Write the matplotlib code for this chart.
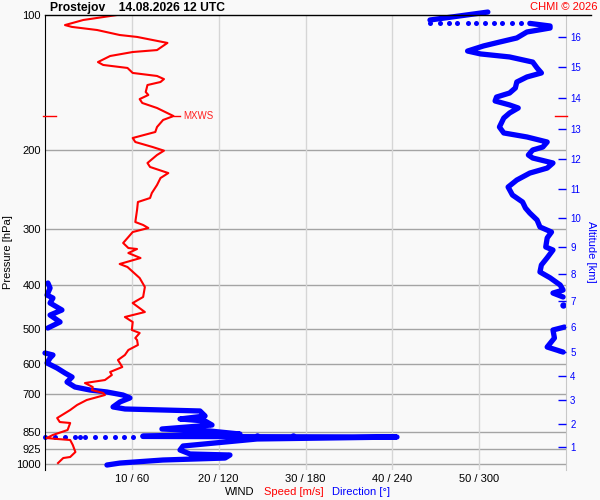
import numpy as np
import matplotlib
matplotlib.use("Agg")
import matplotlib.pyplot as plt
from matplotlib.lines import Line2D

plt.rcParams['font.family'] = ['Liberation Sans', 'DejaVu Sans']

BG = '#f9f9f9'

# wind speed profile: (pressure hPa, speed m/s)
speed = [
    (100.0, 8.3), (102.6, 4.4), (105.3, 2.3), (106.3, 3.1), (108.0, 6.0),
    (110.8, 8.6), (111.9, 10.6), (115.4, 14.1), (119.7, 12.9), (120.9, 10.1),
    (123.4, 7.5), (127.3, 6.1), (129.2, 6.7), (131.2, 9.5), (134.6, 10.1),
    (136.7, 12.9), (138.9, 13.7), (141.0, 13.3), (143.2, 11.8), (148.4, 11.6),
    (150.7, 11.9), (153.9, 10.9), (157.0, 11.2), (161.1, 12.9), (167.9, 14.8),
    (171.3, 13.6), (177.6, 12.9), (182.2, 12.7), (187.9, 10.1), (191.8, 10.4),
    (196.8, 12.4), (200.5, 13.7), (205.0, 12.9), (213.6, 11.8), (218.0, 12.1),
    (224.9, 14.2), (230.7, 13.3), (239.1, 12.9), (249.2, 12.3), (255.6, 12.1),
    (260.9, 10.7), (271.9, 10.6), (289.1, 10.4), (293.5, 11.3), (298.1, 11.9),
    (304.3, 10.1), (312.2, 9.6), (321.9, 9.0), (330.3, 9.6), (332.0, 10.6),
    (338.9, 9.6), (347.7, 11.0), (358.5, 8.6), (364.1, 9.5), (385.2, 10.9),
    (403.4, 11.5), (424.6, 11.3), (437.9, 10.1), (458.6, 11.5), (470.5, 9.2),
    (482.7, 10.1), (502.9, 10.0), (510.7, 10.9), (524.0, 10.4), (529.4, 10.6),
    (543.1, 10.7), (557.2, 9.6), (571.7, 9.2), (586.6, 8.4), (608.0, 8.9),
    (623.7, 7.5), (633.4, 7.7), (650.0, 6.9), (660.1, 4.6), (673.7, 5.5),
    (684.2, 5.4), (694.7, 6.7), (701.9, 6.9), (720.1, 4.8), (738.6, 3.7),
    (758.0, 2.9), (789.8, 1.4), (806.2, 1.7), (810.2, 2.9), (839.9, 2.6),
    (861.6, 0.9), (875.1, 0.2), (879.4, 1.4), (884.0, 2.9), (906.9, 3.2),
    (940.2, 3.5), (964.5, 2.9), (969.6, 2.1), (994.9, 1.5),
]

# wind direction profile, drawn in pieces (pressure hPa, direction deg)
dir_top = [(98.5, 306), (102.6, 266)]
dir_top_dots_p = 104.2
dir_top_dots = [266, 273, 279, 285, 292, 298, 304, 310, 316, 323, 329, 335]
dir_upper = [
    (104.4, 335), (105.8, 349), (106.9, 349), (109.1, 333), (112.5, 326),
    (114.9, 314), (117.2, 303), (120.3, 292), (122.1, 301), (124.0, 321),
    (127.3, 337), (131.2, 340), (134.6, 343), (137.4, 333), (141.0, 326),
    (145.4, 325), (149.2, 321), (152.3, 312), (155.4, 311), (158.6, 321),
    (161.1, 327), (165.3, 321), (169.6, 317), (177.6, 314), (183.1, 317),
    (186.9, 333), (191.8, 347), (196.8, 344), (199.8, 337), (205.0, 334),
    (208.2, 337), (213.6, 351), (219.2, 347), (224.9, 335), (233.1, 326),
    (241.6, 320), (251.7, 323), (260.9, 330), (269.1, 332), (276.1, 335),
    (286.1, 340), (296.5, 342), (304.3, 350), (313.7, 347), (328.6, 346),
    (333.7, 351), (347.2, 347), (360.3, 343), (373.5, 342), (384.8, 349),
    (399.3, 356), (409.8, 358), (416.1, 351), (424.6, 358),
]
dir_single = [(442.4, 358)]
dir_right_mid = [(495.3, 359), (502.9, 351), (524.0, 352), (548.8, 347), (563.2, 358)]
dir_left_mid = [
    (395.2, 2), (405.5, 3.5), (420.4, 1.4), (426.9, 5.5), (437.9, 3.5),
    (453.9, 11.7), (465.8, 3.5), (482.7, 10.4), (497.8, 2),
]
dir_lower = [
    (565.9, 0), (571.7, 5.5), (580.6, 3.5), (595.7, 1.4), (611.2, 8.3),
    (627.0, 13.8), (640.1, 18.7), (656.7, 15.2), (673.7, 20.7), (684.2, 31.1),
    (691.1, 42.8), (701.9, 53.9), (712.5, 58.7), (727.3, 51.8), (746.2, 47.0),
    (754.0, 55.3), (761.8, 107.1), (781.5, 110.6), (793.7, 93.3), (801.9, 110.6),
    (818.6, 115.4), (835.5, 80.8), (844.2, 114.0), (857.3, 134.7), (866.0, 67.7),
]
dir_850_dots_p = 870.6
dir_850_dots = [0, 6.9, 13.8, 20.7, 24.2, 27.6, 34.6, 41.5, 48.4, 54.6, 60.8]
dir_spike = [
    (868.0, 67.7), (870.6, 243.2), (879.4, 146.5), (911.6, 95.4), (930.6, 93.3),
    (949.7, 100.2), (954.8, 127.8), (969.6, 124.4), (979.5, 81.5), (994.9, 51.8),
    (1005.0, 42.8),
]
dir_spike_dots = [(866.0, 146.5), (866.0, 171.4)]

# max wind
mx_p, mx_v = 167.9, 14.8

press_ticks = [100, 200, 300, 400, 500, 600, 700, 850, 925, 1000]
speed_ticks = [10, 20, 30, 40, 50]
dir_ticks = [60, 120, 180, 240, 300]
alt_km = [1, 2, 3, 4, 5, 6, 7, 8, 9, 10, 11, 12, 13, 14, 15, 16]
alt_p = [916.5, 814.6, 720.1, 636.8, 563.2, 495.3, 433.5, 377.5, 328.7,
         283.3, 244.1, 209.3, 179.4, 153.0, 130.6, 111.8]

p_bottom, p_top = 1031, 100

fig = plt.figure(figsize=(6, 5), dpi=100, facecolor=BG)
axd = fig.add_axes([45/600, 30/500, 521/600, 455/500])
axd.set_facecolor(BG)
ax = axd.twiny()
axr = ax.twinx()

# direction axes (bottom layer, carries grid and pressure labels)
axd.set_yscale('log')
axd.set_ylim(p_bottom, p_top)
axd.set_xlim(0, 360)
for p in press_ticks[1:]:
    axd.axhline(p, color='#a4a4a4', lw=1, zorder=0)
for d in dir_ticks:
    axd.axvline(d, color='#d6d6d6', lw=1, zorder=0)

blue_kw = dict(color='#0000ff', lw=3.8, solid_capstyle='round',
               solid_joinstyle='round', clip_on=False, zorder=2)
dot_kw = dict(color='#0000ff', marker='o', ms=3.6, mec='none', ls='none',
              clip_on=False, zorder=2)
for seg in [dir_top, dir_upper, dir_right_mid, dir_left_mid, dir_lower, dir_spike]:
    arr = np.array(seg)
    axd.plot(arr[:, 1], arr[:, 0], **blue_kw)
axd.plot(dir_top_dots, [dir_top_dots_p] * len(dir_top_dots), **dot_kw)
axd.plot(dir_850_dots, [dir_850_dots_p] * len(dir_850_dots), **dot_kw)
for seg in [dir_single, dir_spike_dots]:
    arr = np.array(seg)
    axd.plot(arr[:, 1], arr[:, 0], **dict(dot_kw, ms=4.6))

axd.set_yticks(press_ticks, labels=[str(p) for p in press_ticks])
axd.yaxis.set_minor_locator(matplotlib.ticker.NullLocator())
axd.tick_params(axis='y', length=0, pad=3, labelsize=8)
axd.set_xticks(dir_ticks, labels=[f"{s} / {d}" for s, d in zip(speed_ticks, dir_ticks)])
axd.tick_params(axis='x', length=0, pad=3, labelsize=8)
axd.spines['top'].set_visible(False)
axd.spines['bottom'].set_visible(False)
axd.spines['left'].set_color('black')
axd.spines['right'].set_color('#c8c8c8')

# speed axes (top layer)
sp = np.array(speed)
ax.set_xlim(0, 60)
ax.plot(sp[:, 1], sp[:, 0], color='#ff0000', lw=1.5, zorder=3)
ax.plot([mx_v, mx_v + 0.8], [mx_p, mx_p], color='#ff0000', lw=1)
ax.text(mx_v + 1.1, mx_p, 'MXWS', color='#ff2020', fontsize=7, va='center')
ax.plot([-0.004, 0.021], [mx_p, mx_p], transform=ax.get_yaxis_transform(),
        color='#ff0000', lw=1, clip_on=False)
ax.plot([0.979, 1.002], [mx_p, mx_p], transform=ax.get_yaxis_transform(),
        color='#ff0000', lw=1, clip_on=False)
ax.set_xticks([])
for s in ax.spines.values():
    s.set_visible(False)

# altitude scale on the right
axr.set_yscale('log')
axr.set_yticks(alt_p, labels=[str(k) for k in alt_km])
axr.yaxis.set_minor_locator(matplotlib.ticker.NullLocator())
axr.set_ylim(p_bottom, p_top)
axr.tick_params(axis='y', colors='#0000ff', direction='in', length=6, width=1,
                pad=3, labelsize=7)
for s in axr.spines.values():
    s.set_visible(False)

fig.add_artist(Line2D([45/600, 591/600], [1 - 15/500] * 2, color='black', lw=1))

fig.text(50/600, 1 - 8/500, 'Prostejov    14.08.2026 12 UTC', fontsize=8.7,
         fontweight='bold', ha='left', va='center')
fig.text(598/600, 1 - 7/500, 'CHMI © 2026', color='#ff0000', fontsize=8,
         ha='right', va='center')
fig.text(8/600, 1 - 252/500, 'Pressure [hPa]', rotation=90, fontsize=8,
         ha='center', va='center')
fig.text(591/600, 1 - 252/500, 'Altitude [km]', rotation=270, fontsize=8,
         color='#0000ff', ha='center', va='center')
fig.text(225/600, 1 - 492/500, 'WIND', fontsize=8, ha='left', va='center')
fig.text(264/600, 1 - 492/500, 'Speed [m/s]', fontsize=8, color='#ff0000',
         ha='left', va='center')
fig.text(332/600, 1 - 492/500, 'Direction [°]', fontsize=8, color='#0000ff',
         ha='left', va='center')

fig.savefig('out.png', dpi=100, facecolor=BG)
